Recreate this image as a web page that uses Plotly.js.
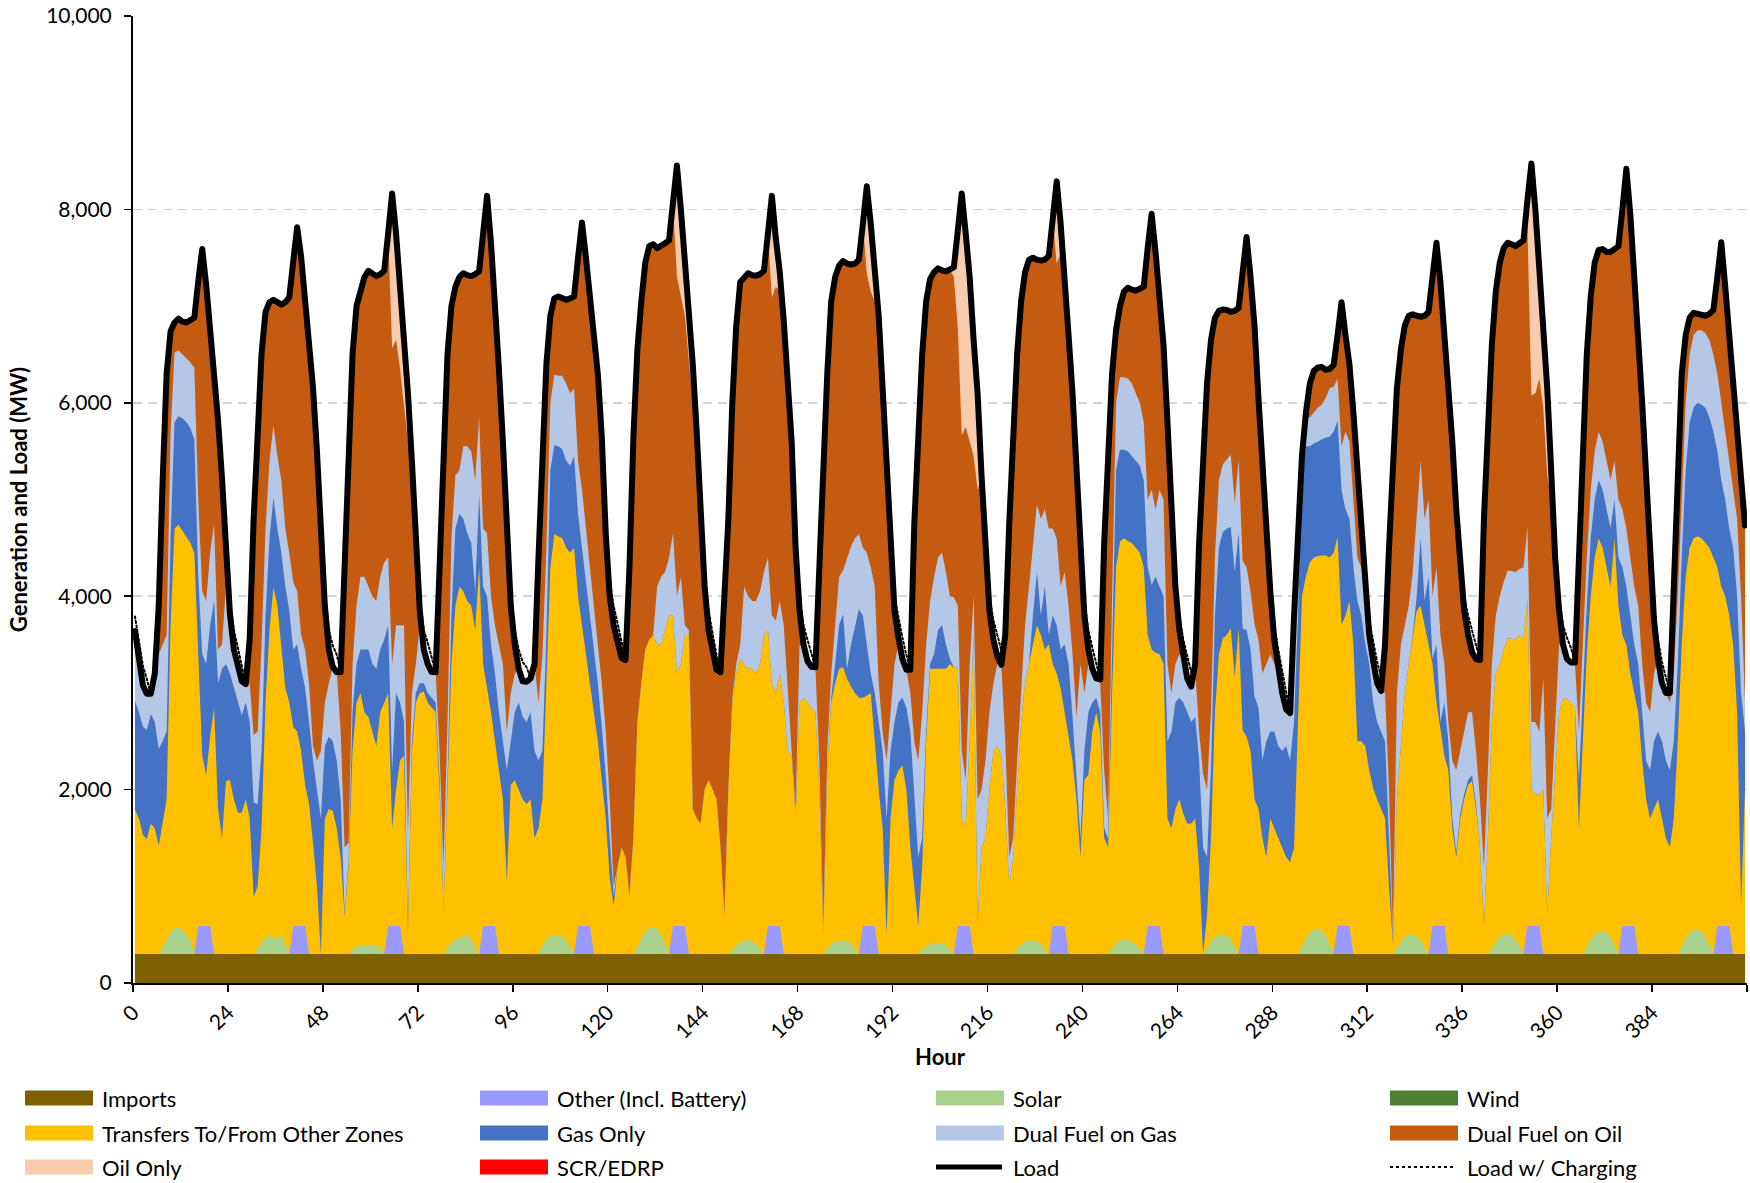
<!DOCTYPE html>
<html><head><meta charset="utf-8">
<script src="https://cdn.plot.ly/plotly-3.0.1.min.js"></script>
<style>html,body{margin:0;padding:0;background:#fff;}#chart{width:1750px;height:1183px;}
#chart .scatterlayer .js-line{stroke-linejoin:round !important;stroke-linecap:round !important;}</style>
</head><body><div id="chart"></div>
<script>
// ---------------- data (MW, hourly, 17 days x 24 h) ----------------
const hourTickLabels = [0,24,48,72,96,120,144,168,192,216,240,264,288,312,336,360,384];

const load = [
3640,3330,3080,2990,2990,3200,3900,5200,6300,6740,6830,6870,6840,6830,6860,6880,7260,7590,7220,6770,6320,5820,5220,4570,
3820,3450,3250,3120,3090,3560,4800,5720,6510,6940,7040,7065,7030,7015,7040,7090,7460,7815,7510,7110,6660,6160,5500,4700,
3900,3450,3270,3215,3215,4315,5600,6500,7000,7180,7300,7365,7330,7310,7330,7365,7750,8165,7750,7250,6650,6100,5400,4450,
3850,3450,3300,3215,3215,4300,5550,6500,7000,7200,7300,7340,7320,7310,7330,7360,7750,8140,7650,7050,6350,5600,4700,3900,
3500,3250,3120,3115,3150,3300,4400,5600,6400,6900,7080,7100,7080,7065,7080,7100,7500,7865,7500,7150,6700,6300,5650,4650,
4000,3700,3500,3360,3340,4300,5650,6550,7050,7450,7620,7640,7600,7620,7650,7680,8050,8455,8000,7500,6950,6400,5700,4900,
4100,3650,3400,3240,3215,3900,4800,6000,6800,7250,7300,7340,7320,7315,7330,7365,7750,8140,7700,7350,6850,6300,5600,4500,
3850,3500,3330,3270,3265,4300,5400,6300,7050,7300,7420,7465,7440,7430,7440,7480,7850,8240,7850,7450,6900,6150,5400,4450,
3850,3570,3350,3240,3240,4750,5700,6500,7050,7280,7350,7390,7370,7360,7380,7400,7780,8165,7750,7300,6650,6100,5250,4400,
3850,3550,3380,3290,3600,4750,5700,6500,7050,7350,7480,7500,7480,7470,7480,7520,7900,8290,7850,7350,6700,6100,5250,4400,
3800,3450,3250,3150,3140,4550,5450,6300,6750,7000,7150,7190,7170,7160,7180,7200,7600,7955,7550,7050,6600,5800,4900,4100,
3650,3350,3150,3065,3300,4550,5400,6200,6650,6880,6950,6965,6960,6940,6950,6980,7350,7715,7300,6800,6050,5400,4600,4050,
3550,3250,3000,2830,2790,3800,4600,5450,5900,6200,6330,6365,6370,6340,6350,6390,6700,7040,6700,6400,5900,5300,4600,4000,
3600,3330,3100,3020,3500,4500,5300,6150,6550,6800,6900,6915,6900,6890,6900,6940,7300,7655,7250,6750,6200,5600,4900,4300,
3850,3600,3420,3350,3340,4800,5700,6600,7150,7450,7600,7655,7640,7620,7650,7680,8100,8475,8000,7450,6850,6150,5300,4400,
3850,3500,3350,3315,3315,4300,5600,6500,7100,7450,7580,7590,7560,7560,7590,7620,8000,8420,7950,7350,6700,6000,5250,4400,
3750,3350,3100,3000,3000,4100,5400,6300,6700,6880,6930,6920,6900,6900,6920,6960,7300,7660,7200,6700,6100,5600,5150,4730];

// cumulative level read at the top of each stacked band
const transfersTop = [
1790,1700,1530,1490,1650,1600,1420,1650,1900,3700,4700,4740,4680,4620,4550,4450,3300,2350,2150,2550,2850,1800,1500,2090,
2100,1900,1760,1760,1900,1700,890,1000,1600,2900,3650,4090,3900,3500,3050,2900,2650,2600,2400,2050,1850,1450,1000,300,
1700,1800,1780,1600,1300,690,1200,2400,2900,3000,2800,2750,2600,2450,2800,2900,3000,1600,2000,2300,2350,530,2400,2900,
3000,3015,2900,2850,2800,2000,740,2000,3300,3900,4100,4050,3950,3900,3650,4300,3300,3050,2800,2500,2200,1900,1050,2050,
2100,2000,1900,1850,1900,1500,1600,1900,3000,4300,4640,4620,4600,4500,4450,4500,4000,3700,3400,3100,2800,2500,2100,1700,
1100,800,1200,1400,1300,900,1500,2700,3100,3450,3550,3600,3500,3500,3650,3800,3800,3200,3300,3600,3600,1800,1700,1650,
2000,2100,2000,1900,1400,700,2000,2900,3200,3350,3300,3250,3250,3200,3300,3600,3650,3100,3000,3200,2900,2400,2350,1700,
2900,2950,2900,2850,2800,2000,500,2200,2900,3100,3250,3265,3150,3065,3000,2950,2950,2970,3000,2500,2000,1600,500,1700,
2100,2200,2250,2000,1400,1000,600,1200,2500,3250,3250,3250,3250,3250,3300,3265,3265,1700,1620,2500,3600,600,1400,1500,
2000,2400,2450,2350,1800,1000,1300,2000,2700,3100,3300,3500,3700,3600,3450,3500,3300,3200,3050,2800,2550,2300,1900,1300,
2100,2150,2600,2800,2600,1500,1400,3000,4300,4565,4600,4570,4550,4500,4450,4300,3600,3450,3415,3400,3300,1700,1600,1800,
1900,1750,1650,1650,1700,1200,300,700,1500,2800,3400,3565,3600,3665,3165,3665,2615,2550,2400,1900,1800,1500,1300,1700,
1600,1500,1400,1300,1250,1400,2700,4000,4200,4350,4400,4415,4420,4420,4400,4450,4615,3700,3800,3950,3500,2500,2500,2450,
2200,2015,1900,1800,1700,1000,400,1900,2500,3000,3300,3600,3850,3900,3700,3500,3300,2900,2600,2350,2200,1600,1300,1700,
1900,2050,2090,1800,1400,600,1500,2700,3200,3300,3450,3565,3560,3550,3600,3550,3965,2000,1950,1950,2000,700,1500,2200,
2800,2940,2940,2900,2850,1600,2500,3400,4000,4400,4600,4500,4300,4100,4600,3900,3600,3500,3200,3000,2800,2300,1900,1700,
1800,1900,1700,1500,1400,1700,2500,3500,4200,4500,4600,4620,4600,4550,4500,4400,4300,4100,4000,3800,3500,2800,800,2000];

const gasOnlyTop = [
2915,2800,2650,2620,2780,2700,2420,2500,2600,4600,5800,5860,5840,5800,5740,5620,4200,3400,3300,3700,3950,3100,3250,3300,
3200,3050,2900,2770,2900,2700,1865,1850,2400,3800,4600,5015,4700,4450,4100,3850,3450,3500,3250,3050,2700,2300,2000,1700,
2450,2550,2500,2300,1900,720,1250,2800,3300,3450,3450,3450,3300,3250,3450,3550,3700,2200,3000,2900,2700,550,2500,3000,
3100,3100,3000,2950,2900,2100,760,2100,3800,4700,4850,4800,4650,4550,4050,5050,4100,4000,3500,3200,2800,2500,2200,2500,
2800,2900,2750,2700,2800,2400,2300,2400,3600,5300,5560,5550,5520,5400,5350,5450,4850,4500,4150,3800,3450,3100,2650,2150,
1500,900,1200,1400,1300,900,1500,2700,3100,3450,3550,3600,3500,3500,3650,3800,3800,3200,3300,3600,3600,1800,1700,1650,
2000,2100,2000,1900,1400,700,2000,2900,3200,3350,3300,3250,3250,3200,3300,3600,3650,3100,3000,3200,2900,2400,2350,1700,
2900,2950,2900,2850,2800,2000,500,2200,2950,3300,3700,3815,3250,3500,3700,3865,3800,3500,3200,3000,2700,2400,1700,2400,
2700,2900,2950,2850,2600,2000,1300,1500,2600,3300,3400,3650,3700,3500,3350,3265,3265,1700,1620,2500,3600,600,1400,1500,
2000,2400,2450,2350,1800,1000,1300,2000,2700,3100,3300,3800,4250,3800,4100,3600,3800,3700,3450,3500,3300,2750,2100,1500,
2400,2800,2900,2950,2800,1600,1500,3500,5300,5515,5515,5500,5450,5400,5350,5200,4300,4115,4200,4100,4000,2500,2600,2900,
2950,2900,2800,2700,2750,2300,1400,1300,2200,3800,4500,4665,4700,4715,4250,4665,3665,3650,3450,2965,2850,2300,2500,2600,
2600,2450,2400,2450,2300,2700,3800,5300,5550,5550,5580,5600,5620,5640,5650,5700,5815,5100,4900,4800,4300,3950,3800,3500,
3300,2900,2700,2600,2500,1500,400,1900,2500,3000,3300,3600,4000,4600,3950,4200,3350,3500,2700,2900,2500,1700,1350,1750,
1950,2100,2150,1850,1400,600,1500,2700,3200,3300,3450,3565,3560,3550,3600,3550,3965,2000,1950,1950,2000,700,1500,2200,
2800,2940,2940,2900,2850,2100,3000,3900,4600,5000,5200,5100,4900,4700,5000,4400,4300,4100,3800,3500,3300,2800,2300,2200,
2500,2600,2500,2300,2200,2500,3300,4400,5300,5800,5950,6000,5980,5950,5850,5700,5500,5200,5000,4700,4500,4000,3000,2600];

const dualGasTop = [
3640,3330,3080,2990,2990,3200,3400,3500,3600,5700,6520,6540,6500,6470,6420,6360,5000,4050,3950,4450,4750,3450,3500,4100,
3820,3450,3250,3120,3090,3100,2565,2600,3500,4700,5400,5765,5450,5200,4700,4450,4150,4050,3600,3450,3100,2450,2300,2400,
2900,3100,3270,3215,2600,1400,1450,3300,3900,4200,4200,4100,4000,3950,4200,4350,4400,3300,3700,3700,3700,1550,3000,3300,
3700,3450,3300,3215,3215,2400,1200,2700,4600,5250,5300,5550,5550,5500,5200,5850,4700,4650,4000,3700,3500,3300,2600,3000,
3200,3250,3120,3115,3150,3300,2900,3400,4500,6000,6290,6280,6280,6200,6100,6150,5400,5100,4700,4300,3950,3550,3100,2600,
1900,1000,1200,1400,1300,900,1500,2700,3100,3450,3550,3600,4100,4200,4250,4400,4650,4000,4200,3700,3650,1800,1700,1650,
2000,2100,2000,1900,1400,700,2000,2950,3300,3500,4100,4000,3950,3950,4050,4250,4400,3800,3750,3950,3700,3000,2400,1800,
3500,3450,3330,3270,3265,2300,600,2400,3200,3700,4200,4265,4400,4515,4600,4640,4500,4450,4300,4100,3100,2600,2300,2800,
3300,3500,3350,3240,3000,2500,2300,2800,3500,3950,4200,4400,4450,4250,4000,3990,3900,2400,2100,3300,4000,1900,2000,2300,
2800,3100,3300,3290,2500,1300,1500,2300,3000,3700,4100,4500,4950,4800,4900,4700,4700,4600,4100,4250,3900,3400,2750,3300,
3000,3300,3250,3150,3100,2200,1700,4000,6000,6265,6265,6250,6200,6100,6000,5800,5000,5100,4900,5100,5000,3300,3000,3300,
3400,3350,3150,3065,3250,2600,2165,2000,2800,4400,5200,5365,5420,5465,4965,5415,4365,4300,4050,3715,3550,3200,3300,3400,
3300,3250,3000,2830,2790,3500,4500,5450,5850,5850,5900,5950,5980,6050,6150,6165,6250,5550,5700,5600,5000,4400,4300,3900,
3550,3330,3100,3020,3000,2000,500,3000,3500,3700,3900,4250,4800,5400,4800,5000,4000,4300,3600,3300,2700,2300,2200,2400,
2600,2800,2800,2400,1900,1200,2200,3300,3800,4000,4150,4265,4260,4250,4280,4300,4715,2700,2700,2600,3150,1700,1800,2700,
3500,3500,3350,3315,3315,2600,3500,4400,5100,5500,5700,5600,5400,5200,5400,5000,4900,4700,4400,4100,3900,3300,2900,2800,
3200,3350,3100,3000,2900,3200,4000,5000,6000,6500,6700,6750,6750,6720,6650,6500,6300,6000,5700,5400,5100,4800,4000,2900];

const solar = [
0,0,0,0,0,0,0,60,150,220,260,272,250,200,140,0,0,0,0,0,0,0,0,0,
0,0,0,0,0,0,0,50,120,170,190,170,160,190,100,0,0,0,0,0,0,0,0,0,
0,0,0,0,0,0,0,40,80,90,95,95,90,85,70,0,0,0,0,0,0,0,0,0,
0,0,0,0,0,0,0,60,120,150,170,185,200,150,60,0,0,0,0,0,0,0,0,0,
0,0,0,0,0,0,0,80,150,185,190,180,185,140,70,0,0,0,0,0,0,0,0,0,
0,0,0,0,0,0,0,70,160,230,270,280,260,200,110,0,0,0,0,0,0,0,0,0,
0,0,0,0,0,0,0,40,90,120,140,150,130,100,50,0,0,0,0,0,0,0,0,0,
0,0,0,0,0,0,0,50,100,130,140,130,140,110,50,0,0,0,0,0,0,0,0,0,
0,0,0,0,0,0,0,40,80,100,110,120,110,90,40,0,0,0,0,0,0,0,0,0,
0,0,0,0,0,0,0,50,100,130,140,140,130,100,50,0,0,0,0,0,0,0,0,0,
0,0,0,0,0,0,0,50,110,140,150,140,130,100,50,0,0,0,0,0,0,0,0,0,
0,0,0,0,0,0,0,60,130,180,200,200,190,150,70,0,0,0,0,0,0,0,0,0,
0,0,0,0,0,0,0,80,160,220,250,260,240,190,90,0,0,0,0,0,0,0,0,0,
0,0,0,0,0,0,0,60,130,180,200,200,180,140,70,0,0,0,0,0,0,0,0,0,
0,0,0,0,0,0,0,60,130,180,200,210,190,150,70,0,0,0,0,0,0,0,0,0,
0,0,0,0,0,0,0,70,150,200,230,240,220,170,80,0,0,0,0,0,0,0,0,0,
0,0,0,0,0,0,0,80,160,220,250,250,240,180,90,0,0,0,0,0,0,0,0,0];

const otherBattery = [
0,0,0,0,0,0,0,0,0,0,0,0,0,0,0,0,290,290,290,290,0,0,0,0,
0,0,0,0,0,0,0,0,0,0,0,0,0,0,0,0,290,290,290,290,0,0,0,0,
0,0,0,0,0,0,0,0,0,0,0,0,0,0,0,0,290,290,290,290,0,0,0,0,
0,0,0,0,0,0,0,0,0,0,0,0,0,0,0,0,290,290,290,290,0,0,0,0,
0,0,0,0,0,0,0,0,0,0,0,0,0,0,0,0,290,290,290,290,0,0,0,0,
0,0,0,0,0,0,0,0,0,0,0,0,0,0,0,0,290,290,290,290,0,0,0,0,
0,0,0,0,0,0,0,0,0,0,0,0,0,0,0,0,290,290,290,290,0,0,0,0,
0,0,0,0,0,0,0,0,0,0,0,0,0,0,0,0,290,290,290,290,0,0,0,0,
0,0,0,0,0,0,0,0,0,0,0,0,0,0,0,0,290,290,290,290,0,0,0,0,
0,0,0,0,0,0,0,0,0,0,0,0,0,0,0,0,290,290,290,290,0,0,0,0,
0,0,0,0,0,0,0,0,0,0,0,0,0,0,0,0,290,290,290,290,0,0,0,0,
0,0,0,0,0,0,0,0,0,0,0,0,0,0,0,0,290,290,290,290,0,0,0,0,
0,0,0,0,0,0,0,0,0,0,0,0,0,0,0,0,290,290,290,290,0,0,0,0,
0,0,0,0,0,0,0,0,0,0,0,0,0,0,0,0,290,290,290,290,0,0,0,0,
0,0,0,0,0,0,0,0,0,0,0,0,0,0,0,0,290,290,290,290,0,0,0,0,
0,0,0,0,0,0,0,0,0,0,0,0,0,0,0,0,290,290,290,290,0,0,0,0,
0,0,0,0,0,0,0,0,0,0,0,0,0,0,0,0,290,290,290,290,0,0,0,0];

const importsHours = [0, 407];
const importsMW = [300, 300];

const oilOnlyHour = [65,66,67,68,69, 137,138,139,140,141, 161,162,163, 185,186,187,188, 200, 207,208,209,210,211,212,213, 224, 233,234, 333, 343, 352,353,354,355,356,357,358];
const oilOnlyMW   = [1600,1100,900,700,500, 1150,900,600,500,400, 1050,500,200, 900,700,400,300, 150, 100,1000,2500,2000,1700,1200,1000, 150, 850,300, 200, 150, 300,2400,1900,1200,900,900,300];

const chargingHour = [0,1,2,3, 23,24,25,26,27, 47,48,49,50,51, 71,72,73,74,75, 95,96,97,98,99, 119,120,121,122,123, 143,144,145,146,147, 167,168,169,170,171, 191,192,193,194,195, 215,216,217,218,219, 239,240,241,242,243, 263,264,265,266,267, 287,288,289,290,291, 311,312,313,314,315, 335,336,337,338,339, 359,360,361,362,363, 383,384,385,386,387];
const chargingMW = [150,200,200,150, 100,150,200,220,150, 100,160,200,220,180, 100,150,200,220,150, 100,150,200,200,150, 100,150,200,220,150, 100,150,200,220,150, 100,150,200,220,150, 100,150,200,220,150, 100,150,200,220,150, 100,150,200,220,150, 100,150,200,220,150, 100,150,200,220,150, 100,150,200,220,150, 100,150,200,220,150, 100,150,200,220,150, 100,150,200,220,150];

// ---------------- build drawing tables ----------------
const N = load.length;
const hourIndex = load.map((_, i) => i);
const importsLevel = importsMW[0];
const oilOnly = load.map(() => 0);
oilOnlyHour.forEach((h, k) => { oilOnly[h] = oilOnlyMW[k]; });
const charging = load.map(() => 0);
chargingHour.forEach((h, k) => { charging[h] = chargingMW[k]; });
const loadWithCharging = load.map((v, i) => v + charging[i]);
const dualOilTop = load.map((v, i) => v - oilOnly[i]);
const dualGasPlot = dualGasTop.map((v, i) => Math.min(v, dualOilTop[i]));
const gasPlot = gasOnlyTop.map((v, i) => Math.min(v, dualGasPlot[i]));
const transfersPlot = transfersTop.map((v, i) => Math.min(v, gasPlot[i]));
const otherTop = otherBattery.map(v => importsLevel + v);
const solarTop = solar.map((v, i) => otherTop[i] + v);

const C = {
  imports:'#7F6000', other:'#9999FF', solar:'#A9D18E', wind:'#4E7F35',
  transfers:'#FFC000', gas:'#4472C4', dualGas:'#B4C7E7', dualOil:'#C55A11',
  oilOnly:'#F8CBAD', scr:'#FF0000'
};

function area(name, x, y, color) {
  return {type:'scatter', mode:'lines', name, x, y, fill:'tozeroy', fillcolor:color,
          line:{width:0, color:color}, hoverinfo:'skip', showlegend:false};
}

const traces = [
  area('Oil Only', hourIndex, load, C.oilOnly),
  area('Dual Fuel on Oil', hourIndex, dualOilTop, C.dualOil),
  area('Dual Fuel on Gas', hourIndex, dualGasPlot, C.dualGas),
  area('Gas Only', hourIndex, gasPlot, C.gas),
  area('Transfers To/From Other Zones', hourIndex, transfersPlot, C.transfers),
  area('Solar', hourIndex, solarTop, C.solar),
  area('Other (Incl. Battery)', hourIndex, otherTop, C.other),
  area('Imports', importsHours, importsMW, C.imports),
  {type:'scatter', mode:'lines', name:'Load w/ Charging', x:hourIndex, y:loadWithCharging,
   line:{color:'#000', width:2, dash:'2px,2.5px'}, hoverinfo:'skip', showlegend:false},
  {type:'scatter', mode:'lines', name:'Load', x:hourIndex, y:load,
   line:{color:'#000', width:6}, hoverinfo:'skip', showlegend:false}
];

// ---------------- layout ----------------
const W = 1750, H = 1183, ML = 133, MR = 3, MT = 16, MB = 200;
const PW = W - ML - MR, PH = H - MT - MB;
const px2x = px => (px - ML) / PW;
const py2y = py => (H - MB - py) / PH;
const FONT = 'Lato, "Open Sans", sans-serif';

const tickVals = hourTickLabels.map(h => h - 0.5).concat([N - 0.5]);
const tickText = hourTickLabels.map(String).concat(['']);

const legendItems = [
  ['Imports', C.imports, 'box'], ['Other (Incl. Battery)', C.other, 'box'], ['Solar', C.solar, 'box'], ['Wind', C.wind, 'box'],
  ['Transfers To/From Other Zones', C.transfers, 'box'], ['Gas Only', C.gas, 'box'], ['Dual Fuel on Gas', C.dualGas, 'box'], ['Dual Fuel on Oil', C.dualOil, 'box'],
  ['Oil Only', C.oilOnly, 'box'], ['SCR/EDRP', C.scr, 'box'], ['Load', '#000', 'line'], ['Load w/ Charging', '#000', 'dot']
];
const colX = [25, 480, 936, 1390];
const rowY = [1098, 1133, 1167];
const shapes = [], annotations = [];
legendItems.forEach((it, k) => {
  const cx = colX[k % 4], cy = rowY[Math.floor(k / 4)];
  if (it[2] === 'box') {
    shapes.push({type:'rect', xref:'paper', yref:'paper', x0:px2x(cx), x1:px2x(cx + 68),
      y0:py2y(cy + 7.5), y1:py2y(cy - 7.5), fillcolor:it[1], line:{width:0}});
  } else {
    shapes.push({type:'line', xref:'paper', yref:'paper', x0:px2x(cx), x1:px2x(cx + 66),
      y0:py2y(cy), y1:py2y(cy), line:{color:'#000', width: it[2] === 'line' ? 5 : 2, dash: it[2] === 'dot' ? 'dot' : 'solid'}});
  }
  annotations.push({xref:'paper', yref:'paper', x:px2x(cx + 75), y:py2y(cy), xanchor:'left', yanchor:'middle',
    text:it[0], showarrow:false, font:{family:FONT, size:22, color:'#000'}});
});

const layout = {
  width:W, height:H, margin:{l:ML, r:MR, t:MT, b:MB, pad:0},
  paper_bgcolor:'#fff', plot_bgcolor:'#fff', showlegend:false,
  font:{family:FONT, size:21, color:'#000'},
  xaxis:{range:[-0.5, N - 0.5], tickmode:'array', tickvals:tickVals, ticktext:tickText, tickangle:-45,
    ticks:'outside', ticklen:7, tickwidth:1.5, tickcolor:'#000', showline:true, linecolor:'#000', linewidth:2,
    showgrid:false, zeroline:false, tickfont:{family:FONT, size:21, color:'#000'}, automargin:false,
    title:{text:'Hour', font:{family:FONT, size:22, color:'#000', weight:700}, standoff:6}},
  yaxis:{range:[0, 10000], tickmode:'linear', tick0:0, dtick:2000, tickformat:',d',
    ticks:'outside', ticklen:7, tickwidth:1.5, tickcolor:'#000', showline:true, linecolor:'#000', linewidth:2,
    showgrid:true, gridcolor:'#D4D4D4', gridwidth:1.6, griddash:'9px,6px', zeroline:false, ticklabelstandoff:8,
    tickfont:{family:FONT, size:21, color:'#000'}, automargin:false,
    title:{text:'Generation and Load (MW)', font:{family:FONT, size:22, color:'#000', weight:700}, standoff:12}},
  shapes, annotations
};

Plotly.newPlot('chart', traces, layout, {staticPlot:true, displayModeBar:false});
</script></body></html>
